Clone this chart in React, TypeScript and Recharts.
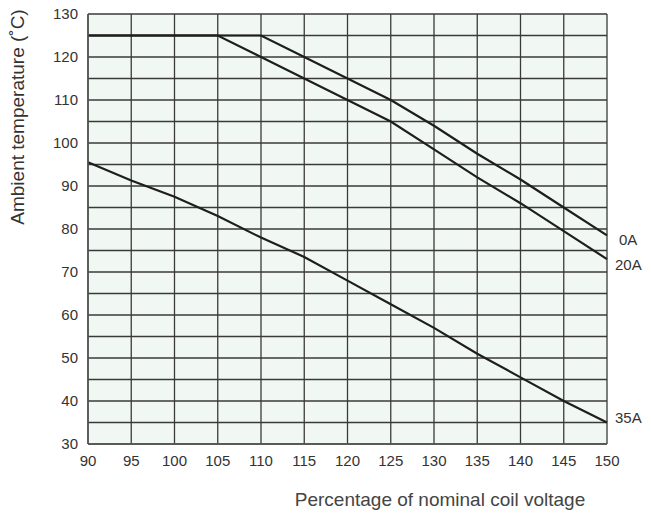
import { LineChart, Line, XAxis, YAxis, CartesianGrid } from "recharts";

// coil voltage in % of nominal
const voltage = [90, 95, 100, 105, 110, 115, 120, 125, 130, 135, 140, 145, 150];
// max ambient temperature (°C) per load current
const temp0A = [125, 125, 125, 125, 125, 120, 115, 110, 104, 97.5, 91.5, 85, 78.5];
const temp20A = [125, 125, 125, 125, 120, 115, 110, 105, 98.5, 92, 86, 79.5, 73];
const temp35A = [95.5, 91.3, 87.5, 83, 78, 73.5, 68, 62.5, 57, 51, 45.5, 40, 35];

const xTicks = [90, 95, 100, 105, 110, 115, 120, 125, 130, 135, 140, 145, 150];
const yTicks = [30, 40, 50, 60, 70, 80, 90, 100, 110, 120, 130];
const yGrid = [30, 35, 40, 45, 50, 55, 60, 65, 70, 75, 80, 85, 90, 95, 100, 105, 110, 115, 120, 125, 130];

const data = voltage.map((v, i) => ({ v, a0: temp0A[i], a20: temp20A[i], a35: temp35A[i] }));

const FONT = "'Liberation Sans', Arial, sans-serif";
const INK = "#1e1e1e";

const endLabel = (text: string, dx: number, dy: number) => (props: any) => {
  if (props.index !== data.length - 1) return null;
  return (
    <text x={props.x + dx} y={props.y + dy} fontSize={15} fill="#333" fontFamily={FONT} dominantBaseline="middle">
      {text}
    </text>
  );
};

export default function App() {
  return (
    <div style={{ width: 643, height: 505, position: "relative", fontFamily: FONT }}>
      <style>{`html, body { overflow: hidden; } .recharts-surface { overflow: visible; }`}</style>
      <LineChart width={643} height={505} data={data} margin={{ top: 6, right: 44, bottom: 39, left: 40 }}>
        <CartesianGrid
          stroke="#3a3a3a"
          strokeWidth={1.3}
          fill="#f1f8f3"
          fillOpacity={1}
          verticalValues={xTicks}
          horizontalValues={yGrid}
        />
        <XAxis
          dataKey="v"
          type="number"
          domain={[90, 150]}
          ticks={xTicks}
          interval={0}
          tickLine={false}
          axisLine={{ stroke: "#555", strokeWidth: 1.5 }}
          tick={{ fill: "#333", fontSize: 15, fontFamily: FONT }}
          tickMargin={5}
        />
        <YAxis
          type="number"
          domain={[30, 130]}
          ticks={yTicks}
          interval={0}
          width={40}
          tickLine={false}
          axisLine={{ stroke: "#555", strokeWidth: 1.5 }}
          tick={{ fill: "#333", fontSize: 15, fontFamily: FONT }}
          tickMargin={4}
        />
        <Line dataKey="a0" stroke={INK} strokeWidth={2.2} dot={false} isAnimationActive={false} label={endLabel("0A", 12, 6)} />
        <Line dataKey="a20" stroke={INK} strokeWidth={2.2} dot={false} isAnimationActive={false} label={endLabel("20A", 8, 7)} />
        <Line dataKey="a35" stroke={INK} strokeWidth={2.2} dot={false} isAnimationActive={false} label={endLabel("35A", 8, -3)} />
      </LineChart>
      <div
        style={{
          position: "absolute",
          left: 10,
          top: 109,
          transform: "translate(-50%, -50%) rotate(-90deg)",
          whiteSpace: "nowrap",
          fontSize: 19,
          color: "#333",
        }}
      >
        Ambient temperature (˚C)
      </div>
      <div
        style={{
          position: "absolute",
          left: 432,
          top: 492,
          transform: "translate(-50%, -50%)",
          whiteSpace: "nowrap",
          fontSize: 19,
          color: "#444",
        }}
      >
        Percentage of nominal coil voltage
      </div>
    </div>
  );
}
